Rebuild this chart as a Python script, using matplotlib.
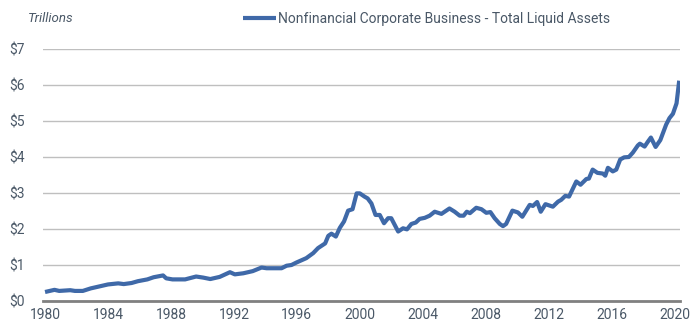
import matplotlib.pyplot as plt
from matplotlib.ticker import FuncFormatter

years = [
    1980.0, 1980.6, 1980.9, 1981.6, 1981.9, 1982.4, 1982.9, 1983.4, 1984.0, 1984.65,
    1985.0, 1985.5, 1985.9, 1986.5, 1986.9, 1987.5, 1987.7, 1988.1, 1988.9, 1989.6,
    1990.05, 1990.5, 1991.1, 1991.75, 1992.06, 1992.6, 1993.2, 1993.76, 1994.08, 1995.03,
    1995.35, 1995.66, 1995.98, 1996.6, 1997.04, 1997.35, 1997.8, 1998.0, 1998.2, 1998.48,
    1998.73, 1999.0, 1999.26, 1999.54, 1999.8, 2000.0, 2000.3, 2000.5, 2000.74, 2001.0,
    2001.27, 2001.54, 2001.8, 2002.0, 2002.44, 2002.75, 2003.0, 2003.28, 2003.56, 2003.8,
    2004.13, 2004.44, 2004.76, 2005.19, 2005.7, 2006.03, 2006.35, 2006.6, 2006.8, 2007.0,
    2007.4, 2007.73, 2008.04, 2008.3, 2008.57, 2008.9, 2009.1, 2009.3, 2009.7, 2010.05,
    2010.33, 2010.8, 2011.0, 2011.27, 2011.5, 2011.8, 2012.27, 2012.6, 2012.8, 2013.06,
    2013.3, 2013.76, 2014.03, 2014.4, 2014.56, 2014.8, 2015.1, 2015.45, 2015.6, 2015.77,
    2016.08, 2016.3, 2016.55, 2016.8, 2017.1, 2017.35, 2017.67, 2017.8, 2018.1, 2018.3,
    2018.5, 2018.8, 2019.1, 2019.47, 2019.68, 2019.9, 2020.13, 2020.3,
]
liquid_assets = [
    0.25, 0.31, 0.28, 0.30, 0.28, 0.28, 0.35, 0.40, 0.46, 0.49,
    0.47, 0.50, 0.55, 0.60, 0.66, 0.71, 0.63, 0.60, 0.60, 0.68,
    0.65, 0.61, 0.67, 0.80, 0.74, 0.77, 0.83, 0.93, 0.91, 0.91,
    0.98, 1.00, 1.07, 1.19, 1.33, 1.47, 1.60, 1.81, 1.87, 1.79,
    2.03, 2.21, 2.51, 2.55, 2.99, 2.99, 2.90, 2.85, 2.71, 2.39,
    2.39, 2.16, 2.30, 2.30, 1.93, 2.02, 1.99, 2.14, 2.18, 2.28,
    2.31, 2.37, 2.48, 2.42, 2.57, 2.48, 2.37, 2.37, 2.48, 2.44,
    2.59, 2.55, 2.45, 2.47, 2.30, 2.14, 2.08, 2.14, 2.51, 2.46,
    2.34, 2.67, 2.64, 2.75, 2.48, 2.69, 2.62, 2.76, 2.81, 2.92,
    2.90, 3.32, 3.23, 3.39, 3.40, 3.65, 3.56, 3.54, 3.48, 3.70,
    3.60, 3.65, 3.93, 3.99, 4.00, 4.12, 4.32, 4.37, 4.29, 4.42,
    4.54, 4.28, 4.47, 4.90, 5.08, 5.20, 5.49, 6.12,
]
x_ticks = list(range(1980, 2021, 4))
y_ticks = list(range(0, 8))

TEXT = "#4a5867"
LINE = "#3f69a8"

plt.rcParams["font.family"] = ["Roboto", "DejaVu Sans"]

fig = plt.figure(figsize=(6.96, 3.35), dpi=100)
ax = fig.add_axes([43 / 696, 1 - 301 / 335, (680 - 43) / 696, (301 - 49) / 335])

ax.plot(years, liquid_assets, color=LINE, linewidth=3.0, solid_capstyle="butt",
        label="Nonfinancial Corporate Business - Total Liquid Assets")

ax.set_xlim(1979.87, 2020.35)
ax.set_ylim(0, 7)
ax.set_xticks(x_ticks)
ax.set_yticks(y_ticks)
ax.yaxis.set_major_formatter(FuncFormatter(lambda v, _: f"${v:.0f}"))
ax.grid(axis="y", color="#bfbfbf", linewidth=1.0)
ax.set_axisbelow(True)
for side in ["top", "right", "left"]:
    ax.spines[side].set_visible(False)
ax.spines["bottom"].set_color("#808080")
ax.spines["bottom"].set_linewidth(2.0)
ax.spines["bottom"].set_zorder(3)
ax.tick_params(axis="both", length=0, labelsize=10, labelcolor=TEXT)
ax.tick_params(axis="x", pad=5)
ax.tick_params(axis="y", pad=13)

fig.text(28 / 696, 1 - 19 / 335, "Trillions", style="italic", fontsize=9.5,
         color=TEXT, va="center", ha="left")
ax.legend(loc="center left", bbox_to_anchor=(243 / 696, 1 - 19 / 335),
          bbox_transform=fig.transFigure, frameon=False, fontsize=10,
          labelcolor=TEXT, handlelength=2.4, handletextpad=0.1,
          borderpad=0, borderaxespad=0)

fig.savefig("out.png", dpi=100)
